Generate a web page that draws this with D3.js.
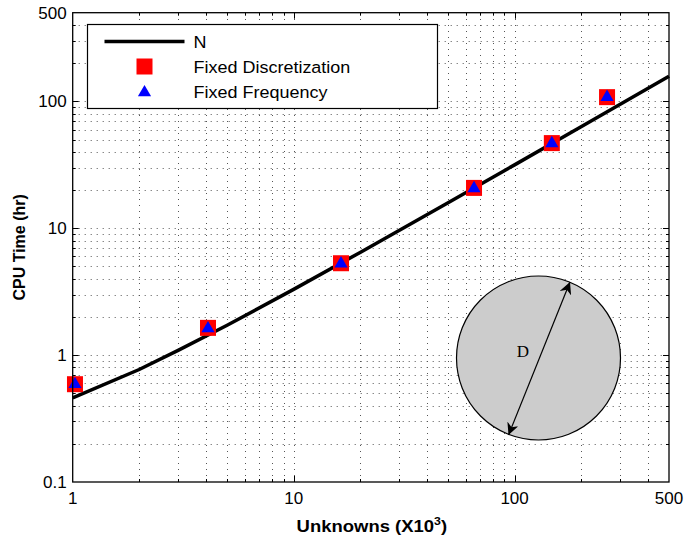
<!DOCTYPE html>
<html>
<head>
<meta charset="utf-8">
<script src="https://cdn.jsdelivr.net/npm/d3@7"></script>
<style>
  body { margin: 0; background: #fff; }
  text { font-family: "Liberation Sans", Arial, sans-serif; }
</style>
</head>
<body>
<div id="graphic"></div>
<script>
var width = 686,
    height = 542;

var margin = {top: 12.7, right: 17, bottom: 60, left: 72.7};

// unknowns in thousands
var unknowns = [1.024, 4.096, 16.384, 65.536, 147.456, 262.144];
var fixedDisc = [0.59, 1.64, 5.3, 20.8, 46.9, 108];
var fixedFreq = [0.6, 1.65, 5.35, 21, 47.5, 110];

// reference N curve
var lineN = [1, 2, 3, 5, 10, 20, 50, 100, 200, 500];
var lineT = [0.46, 0.77, 1.09, 1.72, 3.3, 6.45, 15.9, 31.6, 63.2, 158];

var xTicks = [1, 10, 100, 500];
var yTicks = [0.1, 1, 10, 100, 500];

var legendLabels = ["N", "Fixed Discretization", "Fixed Frequency"];

var svg = d3.select("#graphic")
    .append("svg")
    .attr("width", width)
    .attr("height", height);

var x = d3.scaleLog()
    .domain([1, 500])
    .range([margin.left, width - margin.right]);

var y = d3.scaleLog()
    .domain([0.1, 500])
    .range([height - margin.bottom, margin.top]);

var x0 = x.range()[0], x1 = x.range()[1];
var y0 = y.range()[0], y1 = y.range()[1];

// minor positions: 2..9 of each decade
function minors(lo, hi) {
  var out = [];
  for (var d = lo; d < hi; d *= 10) {
    for (var k = 2; k <= 9; k++) {
      var v = k * d;
      if (v < hi) out.push(v);
    }
  }
  return out;
}
var xMinor = minors(1, 500);
var yMinor = minors(0.1, 500);
var xMajor = [10, 100];
var yMajor = [1, 10, 100];

var grid = svg.append("g")
    .attr("class", "grid")
    .attr("stroke", "#555")
    .attr("stroke-width", 1)
    .attr("stroke-dasharray", "1,5");

grid.selectAll(".gx")
    .data(xMinor.concat(xMajor))
    .enter().append("line")
    .attr("x1", d => Math.round(x(d)) + 0.5)
    .attr("x2", d => Math.round(x(d)) + 0.5)
    .attr("y1", y0)
    .attr("y2", y1);

grid.selectAll(".gy")
    .data(yMinor.concat(yMajor))
    .enter().append("line")
    .attr("y1", d => Math.round(y(d)) + 0.5)
    .attr("y2", d => Math.round(y(d)) + 0.5)
    .attr("x1", x0)
    .attr("x2", x1);

// axes with inward ticks on all four sides
var ticks = svg.append("g")
    .attr("stroke", "#000")
    .attr("stroke-width", 1);

function addTicks(vals, len) {
  vals.forEach(function(v) {
    if (v >= 1 && v <= 500) {
      var px = Math.round(x(v)) + 0.5;
      ticks.append("line").attr("x1", px).attr("x2", px).attr("y1", y0).attr("y2", y0 - len);
      ticks.append("line").attr("x1", px).attr("x2", px).attr("y1", y1).attr("y2", y1 + len);
    }
  });
}
function addYTicks(vals, len) {
  vals.forEach(function(v) {
    var py = Math.round(y(v)) + 0.5;
    ticks.append("line").attr("y1", py).attr("y2", py).attr("x1", x0).attr("x2", x0 + len);
    ticks.append("line").attr("y1", py).attr("y2", py).attr("x1", x1).attr("x2", x1 - len);
  });
}
addTicks(xMajor, 6);
addTicks(xMinor, 3);
addYTicks(yMajor, 6);
addYTicks(yMinor, 3);

// inset: cylinder cross-section with diameter arrow
var inset = svg.append("g").attr("class", "inset");
var defs = svg.append("defs");
defs.append("marker")
    .attr("id", "arrow")
    .attr("viewBox", "0 0 10 10")
    .attr("refX", 10)
    .attr("refY", 5)
    .attr("markerWidth", 12)
    .attr("markerHeight", 12)
    .attr("markerUnits", "userSpaceOnUse")
    .attr("orient", "auto-start-reverse")
    .append("path")
    .attr("d", "M0,0 L10,5 L0,10 L3,5 Z")
    .attr("fill", "#000");

inset.append("circle")
    .attr("cx", 538.5)
    .attr("cy", 358)
    .attr("r", 82)
    .attr("fill", "#cccccc")
    .attr("stroke", "#000")
    .attr("stroke-width", 1.2);

inset.append("line")
    .attr("x1", 508.5)
    .attr("y1", 435)
    .attr("x2", 570)
    .attr("y2", 282)
    .attr("stroke", "#000")
    .attr("stroke-width", 1.2)
    .attr("marker-start", "url(#arrow)")
    .attr("marker-end", "url(#arrow)");

inset.append("text")
    .attr("x", 523)
    .attr("y", 357)
    .attr("text-anchor", "middle")
    .style("font-family", "'Liberation Serif', 'Times New Roman', serif")
    .style("font-size", "17px")
    .text("D");

// N curve
var line = d3.line()
    .x(d => x(d[0]))
    .y(d => y(d[1]));

svg.append("path")
    .datum(d3.zip(lineN, lineT))
    .attr("fill", "none")
    .attr("stroke", "#000")
    .attr("stroke-width", 3.5)
    .attr("d", line);

// markers
var sq = 16;
svg.selectAll(".disc")
    .data(d3.zip(unknowns, fixedDisc))
    .enter().append("rect")
    .attr("x", d => x(d[0]) - sq / 2)
    .attr("y", d => y(d[1]) - sq / 2)
    .attr("width", sq)
    .attr("height", sq)
    .attr("fill", "#ff0000");

var tri = d3.symbol().type(d3.symbolTriangle).size(75);
svg.selectAll(".freq")
    .data(d3.zip(unknowns, fixedFreq))
    .enter().append("path")
    .attr("transform", d => "translate(" + x(d[0]) + "," + (y(d[1]) + 1) + ")")
    .attr("d", tri)
    .attr("fill", "#0000ff");

// frame
svg.append("rect")
    .attr("x", x0)
    .attr("y", y1)
    .attr("width", x1 - x0)
    .attr("height", y0 - y1)
    .attr("fill", "none")
    .attr("stroke", "#000")
    .attr("stroke-width", 1.3);

// tick labels
svg.selectAll(".xl")
    .data(xTicks)
    .enter().append("text")
    .attr("x", d => x(d))
    .attr("y", y0 + 22)
    .attr("text-anchor", "middle")
    .style("font-size", "17px")
    .text(d => d);

svg.selectAll(".yl")
    .data(yTicks)
    .enter().append("text")
    .attr("x", x0 - 6)
    .attr("y", d => y(d) + 6)
    .attr("text-anchor", "end")
    .style("font-size", "17px")
    .text(d => d);

// axis titles (reference font runs a little wide, so stretch horizontally)
var xt = svg.append("text")
    .attr("transform", "translate(" + ((x0 + x1) / 2 + 1) + ",532) scale(1.12,1)")
    .attr("text-anchor", "middle")
    .style("font-size", "16.5px")
    .style("font-weight", "bold")
    .text("Unknowns (X10");
xt.append("tspan")
    .attr("dy", -7)
    .style("font-size", "11px")
    .text("3");
xt.append("tspan")
    .attr("dy", 7)
    .text(")");

svg.append("text")
    .attr("transform", "translate(25," + ((y0 + y1) / 2) + ") rotate(-90)")
    .attr("text-anchor", "middle")
    .style("font-size", "16px")
    .style("font-weight", "bold")
    .text("CPU Time (hr)");

// legend
var legend = svg.append("g")
    .attr("class", "legend")
    .attr("transform", "translate(87.5,24.5)");

legend.append("rect")
    .attr("width", 350)
    .attr("height", 84)
    .attr("fill", "#fff")
    .attr("stroke", "#000")
    .attr("stroke-width", 1.2);

legend.append("line")
    .attr("x1", 17)
    .attr("x2", 97)
    .attr("y1", 17)
    .attr("y2", 17)
    .attr("stroke", "#000")
    .attr("stroke-width", 3.5);

legend.append("rect")
    .attr("x", 57 - sq / 2)
    .attr("y", 42 - sq / 2)
    .attr("width", sq)
    .attr("height", sq)
    .attr("fill", "#ff0000");

legend.append("path")
    .attr("transform", "translate(57,68)")
    .attr("d", tri)
    .attr("fill", "#0000ff");

legend.selectAll(".lt")
    .data(legendLabels)
    .enter().append("text")
    .attr("transform", (d, i) => "translate(106," + (23 + i * 25) + ") scale(1.09,1)")
    .style("font-size", "16.5px")
    .text(d => d);
</script>
</body>
</html>
